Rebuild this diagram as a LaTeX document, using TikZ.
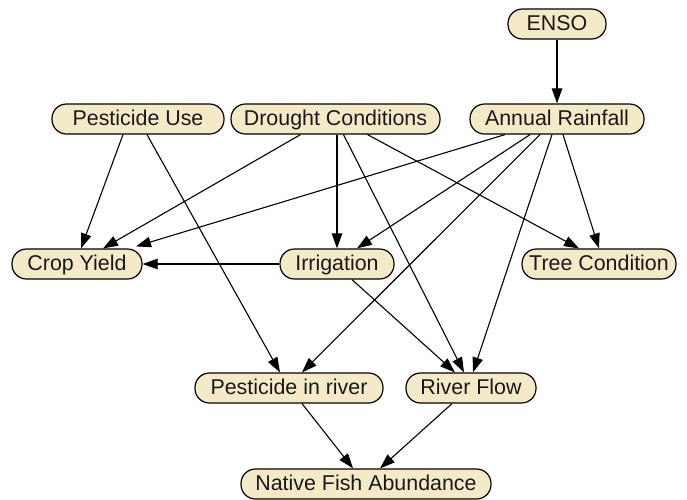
\documentclass[tikz,border=0pt]{standalone}
\usepackage{fontspec}
\setmainfont{Liberation Sans}
\usetikzlibrary{arrows.meta}
\definecolor{nodefill}{RGB}{245,234,200}
\tikzset{
  nd/.style={draw=black, fill=nodefill, rectangle, rounded corners=14.5pt,
    minimum height=30pt, inner sep=0pt, line width=1.2pt,
    text height=15pt, text depth=1.5pt,
    font=\fontsize{21.4}{25}\selectfont, text=black!90},
  ed/.style={draw=black, line width=1.1pt, -{Triangle[length=15pt,width=10.5pt]}}
}
\begin{document}
\begin{tikzpicture}[x=1pt,y=-1pt]
\useasboundingbox (0,0) rectangle (687,499);
\node[nd, minimum width=98pt]  (enso) at (557,24)  {ENSO};
\node[nd, minimum width=172pt] (pu)   at (138,119) {Pesticide Use};
\node[nd, minimum width=209pt] (dc)   at (335.5,119) {Drought Conditions};
\node[nd, minimum width=174pt] (ar)   at (557,119) {Annual Rainfall};
\node[nd, minimum width=130pt] (cy)   at (77,264)  {Crop Yield};
\node[nd, minimum width=114pt] (irr)  at (337,264) {Irrigation};
\node[nd, minimum width=154pt] (tc)   at (599,264) {Tree Condition};
\node[nd, minimum width=188pt] (pir)  at (289,388) {Pesticide in river};
\node[nd, minimum width=130pt] (rf)   at (471,388) {River Flow};
\node[nd, minimum width=250pt] (nfa)  at (366,484) {Native Fish Abundance};

\draw[ed] (enso.south) -- (ar.north);
\draw[ed] ([xshift=-15pt]pu.south) -- ([xshift=4pt]cy.north);
\draw[ed] ([xshift=9pt]pu.south) -- ([xshift=-9pt]pir.north);
\draw[ed] ([xshift=-35pt]dc.south) -- ([xshift=26pt]cy.north);
\draw[ed] ([xshift=1.5pt]dc.south) -- (irr.north);
\draw[ed] ([xshift=8pt]dc.south) -- ([xshift=-7pt]rf.north);
\draw[ed] ([xshift=32pt]dc.south) -- ([xshift=-20pt]tc.north);
\draw[ed] ([xshift=-52pt]ar.south) -- ([xshift=59pt,yshift=2pt]cy.north);
\draw[ed] ([xshift=-27pt]ar.south) -- ([xshift=20pt]irr.north);
\draw[ed] ([xshift=-17pt]ar.south) -- ([xshift=13pt]pir.north);
\draw[ed] ([xshift=-5pt]ar.south) -- ([xshift=2pt]rf.north);
\draw[ed] ([xshift=6pt]ar.south) -- (tc.north);
\draw[ed] (irr.west) -- (cy.east);
\draw[ed] ([xshift=15pt]irr.south) -- ([xshift=-16pt]rf.north);
\draw[ed] ([xshift=13pt]pir.south) -- ([xshift=-13pt]nfa.north);
\draw[ed] ([xshift=-19pt]rf.south) -- ([xshift=14pt]nfa.north);
\end{tikzpicture}
\end{document}
